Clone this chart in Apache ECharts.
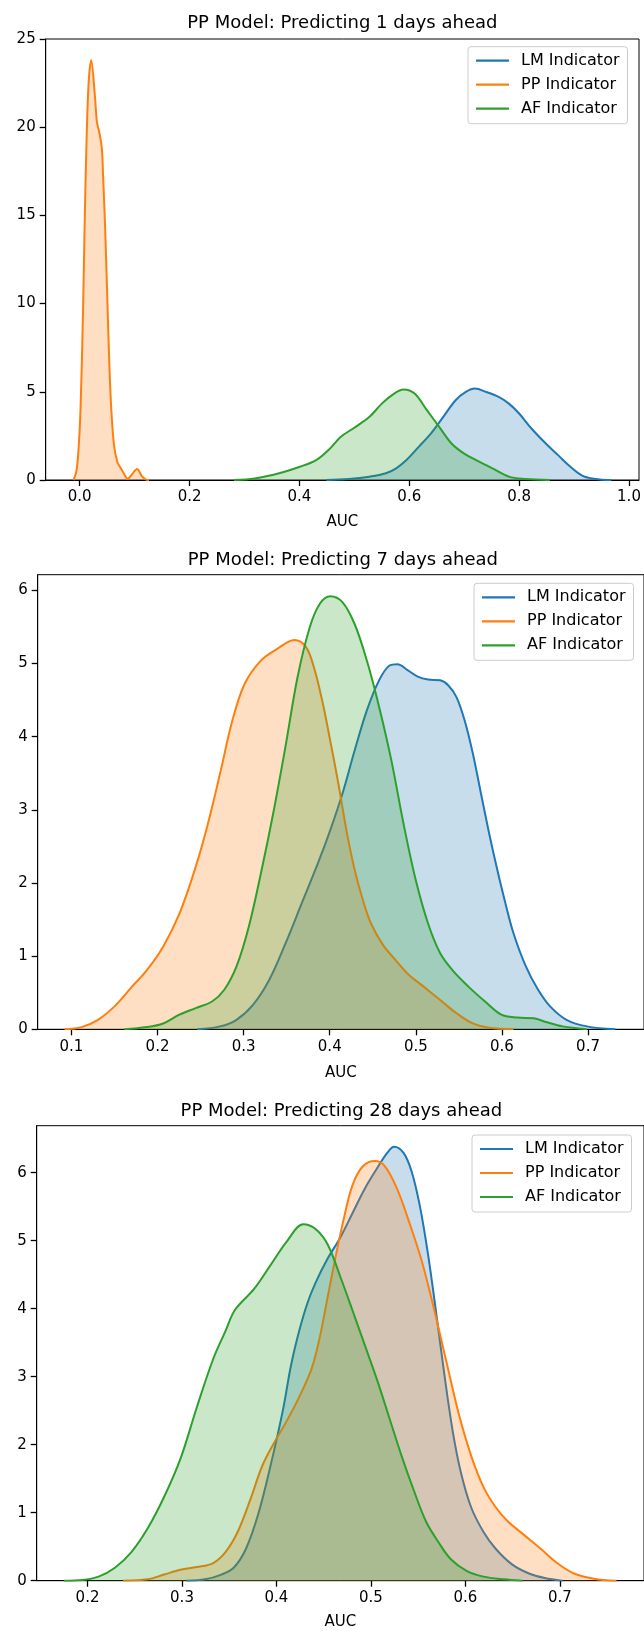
<!DOCTYPE html>
<html>
<head>
<meta charset="utf-8">
<script src="https://cdn.jsdelivr.net/npm/echarts@6/dist/echarts.min.js"></script>
<style>
  html, body { margin: 0; padding: 0; background: #ffffff; }
  #chart { width: 644px; height: 1631px; }
</style>
</head>
<body>
<div id="chart"></div>
<script>
// ---- Panel 1: predicting 1 day ahead ----
const lm1X = [0.449, 0.49, 0.5276, 0.5575, 0.5761, 0.5948, 0.6172, 0.6396, 0.6619, 0.6843, 0.703, 0.7194, 0.7403, 0.7627, 0.7813, 0.8, 0.8224, 0.8485, 0.8709, 0.8933, 0.9157, 0.938, 0.968];
const lm1Y = [0, 0.06, 0.19, 0.38, 0.66, 1.13, 1.88, 2.64, 3.58, 4.52, 4.99, 5.18, 4.99, 4.71, 4.33, 3.77, 2.92, 2.07, 1.41, 0.75, 0.23, 0.06, 0];
const pp1X = [-0.0112, -0.006, -0.002, 0.0015, 0.006, 0.009, 0.0127, 0.0164, 0.0209, 0.0276, 0.0313, 0.0351, 0.0403, 0.0425, 0.0463, 0.05, 0.0537, 0.0575, 0.0627, 0.0687, 0.0724, 0.0799, 0.0873, 0.0948, 0.1045, 0.1134, 0.1209, 0.1261];
const pp1Y = [0, 0.5, 1.8, 4.0, 9.5, 14.5, 19.5, 22.6, 23.8, 21.8, 20.3, 19.8, 18.8, 17.3, 14.3, 10.6, 6.8, 4.0, 1.9, 1.0, 0.8, 0.4, 0.06, 0.3, 0.62, 0.2, 0.02, 0];
const af1X = [0.281, 0.3187, 0.363, 0.4007, 0.4306, 0.453, 0.4754, 0.4978, 0.5276, 0.55, 0.5724, 0.5896, 0.6097, 0.632, 0.6545, 0.6769, 0.6993, 0.7216, 0.7515, 0.7813, 0.8112, 0.856];
const af1Y = [0, 0.09, 0.38, 0.75, 1.13, 1.7, 2.45, 2.92, 3.58, 4.33, 4.9, 5.13, 4.9, 3.96, 3.01, 2.07, 1.51, 1.13, 0.66, 0.19, 0.06, 0];

// ---- Panel 2: predicting 7 days ahead ----
const lm2X = [0.2458, 0.2727, 0.2917, 0.3106, 0.3295, 0.3485, 0.3674, 0.3863, 0.4005, 0.4147, 0.4289, 0.4431, 0.4573, 0.4691, 0.4786, 0.4904, 0.5022, 0.5141, 0.5283, 0.5378, 0.5472, 0.5567, 0.5662, 0.5757, 0.5851, 0.5946, 0.6041, 0.6135, 0.6278, 0.642, 0.6562, 0.675, 0.6987, 0.7318];
const lm2Y = [0, 0.04, 0.13, 0.33, 0.67, 1.17, 1.72, 2.27, 2.72, 3.22, 3.81, 4.36, 4.77, 4.97, 4.99, 4.91, 4.82, 4.78, 4.77, 4.7, 4.54, 4.22, 3.77, 3.22, 2.68, 2.18, 1.72, 1.31, 0.86, 0.54, 0.31, 0.13, 0.04, 0];
const pp2X = [0.092, 0.1118, 0.1308, 0.1497, 0.1686, 0.1876, 0.2065, 0.2254, 0.2443, 0.2585, 0.2727, 0.2869, 0.3011, 0.32, 0.339, 0.3589, 0.3721, 0.3816, 0.3911, 0.4005, 0.41, 0.4194, 0.4289, 0.4384, 0.4478, 0.462, 0.4762, 0.4904, 0.5094, 0.5283, 0.5472, 0.5662, 0.5851, 0.6135];
const pp2Y = [0, 0.03, 0.13, 0.31, 0.56, 0.81, 1.13, 1.58, 2.22, 2.81, 3.5, 4.22, 4.72, 5.04, 5.2, 5.32, 5.23, 4.95, 4.5, 3.95, 3.36, 2.72, 2.18, 1.77, 1.45, 1.15, 0.95, 0.76, 0.58, 0.4, 0.22, 0.08, 0.02, 0];
const af2X = [0.1615, 0.1876, 0.2065, 0.2254, 0.2443, 0.2633, 0.2775, 0.2917, 0.3059, 0.32, 0.3343, 0.3485, 0.3627, 0.3769, 0.3887, 0.4005, 0.4147, 0.4289, 0.4431, 0.4573, 0.4715, 0.4857, 0.4999, 0.5141, 0.5283, 0.5425, 0.5614, 0.5804, 0.5993, 0.6182, 0.6371, 0.6513, 0.6703, 0.6892, 0.6987];
const af2Y = [0, 0.03, 0.08, 0.2, 0.29, 0.38, 0.54, 0.86, 1.4, 2.13, 2.95, 3.86, 4.82, 5.5, 5.82, 5.92, 5.84, 5.54, 5.04, 4.41, 3.68, 2.81, 2.04, 1.45, 1.04, 0.81, 0.58, 0.38, 0.2, 0.16, 0.15, 0.1, 0.04, 0.01, 0];

// ---- Panel 3: predicting 28 days ahead ----
const lm3X = [0.3049, 0.3244, 0.3417, 0.3547, 0.3677, 0.3807, 0.3937, 0.4067, 0.4153, 0.424, 0.4327, 0.4413, 0.4543, 0.4673, 0.4803, 0.4933, 0.5063, 0.5172, 0.5245, 0.5345, 0.5432, 0.5519, 0.5605, 0.5692, 0.5779, 0.5865, 0.5952, 0.606, 0.619, 0.632, 0.6493, 0.6667, 0.684, 0.7026];
const lm3Y = [0, 0.02, 0.09, 0.19, 0.47, 0.98, 1.69, 2.5, 3.16, 3.67, 4.08, 4.38, 4.74, 5.04, 5.4, 5.76, 6.06, 6.29, 6.38, 6.29, 6.01, 5.5, 4.79, 3.92, 3.01, 2.2, 1.59, 1.08, 0.72, 0.47, 0.24, 0.11, 0.04, 0];
const pp3X = [0.2377, 0.2637, 0.281, 0.2983, 0.3157, 0.333, 0.346, 0.359, 0.372, 0.385, 0.398, 0.4109, 0.424, 0.437, 0.4457, 0.4543, 0.463, 0.4717, 0.4803, 0.4912, 0.5042, 0.515, 0.528, 0.541, 0.554, 0.567, 0.58, 0.593, 0.606, 0.619, 0.632, 0.645, 0.6623, 0.6797, 0.697, 0.7143, 0.736, 0.7598];
const pp3Y = [0, 0.02, 0.09, 0.16, 0.2, 0.26, 0.42, 0.72, 1.18, 1.69, 2.04, 2.35, 2.7, 3.11, 3.57, 4.18, 4.79, 5.35, 5.81, 6.09, 6.17, 6.09, 5.75, 5.25, 4.69, 3.98, 3.21, 2.45, 1.84, 1.38, 1.08, 0.87, 0.67, 0.47, 0.26, 0.11, 0.03, 0];
const af3X = [0.1749, 0.1944, 0.2117, 0.229, 0.2464, 0.2637, 0.281, 0.2983, 0.3157, 0.333, 0.346, 0.356, 0.3763, 0.3937, 0.411, 0.4283, 0.4413, 0.4543, 0.4673, 0.4803, 0.4933, 0.5063, 0.5193, 0.5323, 0.5453, 0.5583, 0.5713, 0.5843, 0.6017, 0.619, 0.6406, 0.6601];
const af3Y = [0, 0.01, 0.06, 0.19, 0.42, 0.77, 1.23, 1.79, 2.55, 3.26, 3.67, 3.98, 4.29, 4.64, 4.99, 5.24, 5.17, 4.94, 4.48, 3.98, 3.47, 2.96, 2.4, 1.84, 1.33, 0.87, 0.57, 0.32, 0.14, 0.06, 0.02, 0];

// ---- Titles, legend names and tick values ----
const titles = ['PP Model: Predicting 1 days ahead', 'PP Model: Predicting 7 days ahead', 'PP Model: Predicting 28 days ahead'];
const seriesNames = ['LM Indicator', 'PP Indicator', 'AF Indicator'];
const xLabel = 'AUC';
const xTicks1 = [0.0, 0.2, 0.4, 0.6, 0.8, 1.0];
const yTicks1 = [0, 5, 10, 15, 20, 25];
const xTicks2 = [0.1, 0.2, 0.3, 0.4, 0.5, 0.6, 0.7];
const yTicks2 = [0, 1, 2, 3, 4, 5, 6];
const xTicks3 = [0.2, 0.3, 0.4, 0.5, 0.6, 0.7];
const yTicks3 = [0, 1, 2, 3, 4, 5, 6];

const FONT = 'DejaVu Sans';
const COLORS = ['#1f77b4', '#ff7f0e', '#2ca02c'];
const TICK_SIZE = 15;

// Panel geometry and axis extents (matplotlib-style 5% margins on x)
const panels = [
  { grid: { left: 45.7, top: 39, width: 593.3, height: 441 }, xMin: -0.0619, xMax: 1.0182, yMax: 25,
    xTicks: xTicks1, yTicks: yTicks1, titleTop: 14, legendLeft: 468, legendTop: 46.7, nameGap: 35,
    series: [[lm1X, lm1Y], [pp1X, pp1Y], [af1X, af1Y]] },
  { grid: { left: 37.7, top: 574.7, width: 610.3, height: 454.6 }, xMin: 0.0608, xMax: 0.765, yMax: 6.214,
    xTicks: xTicks2, yTicks: yTicks2, titleTop: 551.5, legendLeft: 474, legendTop: 583.3, nameGap: 36,
    series: [[lm2X, lm2Y], [pp2X, pp2Y], [af2X, af2Y]] },
  { grid: { left: 36.7, top: 1125.7, width: 609.3, height: 455 }, xMin: 0.1462, xMax: 0.789, yMax: 6.69,
    xTicks: xTicks3, yTicks: yTicks3, titleTop: 1102, legendLeft: 472, legendTop: 1135, nameGap: 34,
    series: [[lm3X, lm3Y], [pp3X, pp3Y], [af3X, af3Y]] }
];

function zip(xs, ys) {
  return xs.map((x, i) => [x, ys[i]]);
}

const option = {
  animation: false,
  backgroundColor: '#ffffff',
  textStyle: { fontFamily: FONT, color: '#000' },
  title: [],
  legend: [],
  grid: [],
  xAxis: [],
  yAxis: [],
  series: []
};

panels.forEach((p, k) => {
  const spine = { show: true, onZero: false, lineStyle: { color: '#000', width: 1 } };
  option.title.push({
    text: titles[k],
    left: p.grid.left + p.grid.width / 2,
    top: p.titleTop,
    textAlign: 'center',
    padding: 0,
    textStyle: { fontFamily: FONT, fontSize: 18, fontWeight: 'normal', color: '#000' }
  });
  option.grid.push(Object.assign({
    show: true, borderColor: '#000', borderWidth: 1, backgroundColor: 'transparent', containLabel: false
  }, p.grid));
  option.xAxis.push({
    type: 'value', gridIndex: k, min: p.xMin, max: p.xMax, position: 'bottom',
    name: xLabel, nameLocation: 'middle', nameGap: p.nameGap,
    nameTextStyle: { fontFamily: FONT, fontSize: TICK_SIZE, color: '#000' },
    axisLine: spine,
    splitLine: { show: false },
    axisTick: { show: true, inside: false, length: 6, lineStyle: { color: '#000', width: 1.3 }, customValues: p.xTicks },
    axisLabel: { show: true, margin: 10, fontFamily: FONT, fontSize: TICK_SIZE, color: '#000',
      customValues: p.xTicks, formatter: v => v.toFixed(1) }
  });
  option.yAxis.push({
    type: 'value', gridIndex: k, min: 0, max: p.yMax, position: 'left',
    axisLine: spine,
    splitLine: { show: false },
    axisTick: { show: true, inside: false, length: 6, lineStyle: { color: '#000', width: 1.3 }, customValues: p.yTicks },
    axisLabel: { show: true, margin: 10, fontFamily: FONT, fontSize: TICK_SIZE, color: '#000',
      customValues: p.yTicks, formatter: v => String(Math.round(v)) }
  });
  option.legend.push({
    data: seriesNames.map(n => n + '\u200b'.repeat(k)),
    orient: 'vertical',
    left: p.legendLeft,
    top: p.legendTop,
    padding: [5, 8, 6, 8],
    itemGap: 6,
    icon: 'rect',
    itemWidth: 33,
    itemHeight: 2.2,
    borderColor: '#cccccc',
    borderWidth: 1,
    borderRadius: 3,
    backgroundColor: 'rgba(255,255,255,0.8)',
    selectedMode: false,
    textStyle: { fontFamily: FONT, fontSize: 16, color: '#000', lineHeight: 18, padding: [0, 0, 0, 7] }
  });
  p.series.forEach((s, j) => {
    option.series.push({
      name: seriesNames[j] + '\u200b'.repeat(k),
      type: 'line',
      xAxisIndex: k,
      yAxisIndex: k,
      data: zip(s[0], s[1]),
      smooth: 0.35,
      symbol: 'none',
      showSymbol: false,
      clip: true,
      color: COLORS[j],
      itemStyle: { color: COLORS[j] },
      lineStyle: { color: COLORS[j], width: 2 },
      areaStyle: { color: COLORS[j], opacity: 0.25, origin: 'start' },
      z: 2 + j
    });
  });
});

const chart = echarts.init(document.getElementById('chart'), null, { renderer: 'canvas' });
chart.setOption(option);
</script>
</body>
</html>
